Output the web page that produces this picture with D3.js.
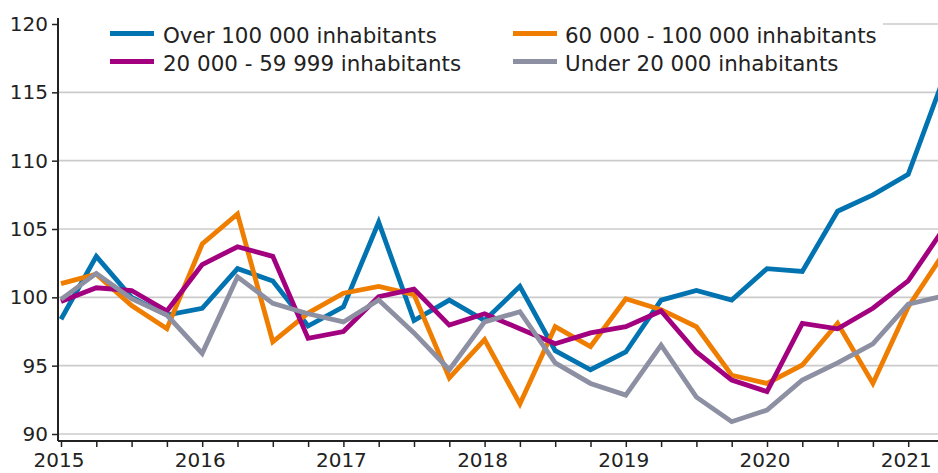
<!DOCTYPE html>
<html>
<head>
<meta charset="utf-8">
<script src="https://cdn.jsdelivr.net/npm/d3@7"></script>
<style>
  html, body { margin: 0; padding: 0; background: #fff; }
  svg { display: block; font-family: "DejaVu Sans", sans-serif; }
</style>
</head>
<body>
<svg id="chart" width="938" height="473"></svg>
<script>
// ---- data ----
const quarters = ["2015Q1","2015Q2","2015Q3","2015Q4","2016Q1","2016Q2","2016Q3","2016Q4",
  "2017Q1","2017Q2","2017Q3","2017Q4","2018Q1","2018Q2","2018Q3","2018Q4",
  "2019Q1","2019Q2","2019Q3","2019Q4","2020Q1","2020Q2","2020Q3","2020Q4",
  "2021Q1","2021Q2"];
const yearLabels = ["2015","2016","2017","2018","2019","2020","2021"];
const yTicks = [90, 95, 100, 105, 110, 115, 120];

const over100k = [98.4, 103.0, 100.0, 98.7, 99.2, 102.1, 101.2, 97.9, 99.3, 105.5, 98.3, 99.8, 98.3,
  100.8, 96.1, 94.7, 96.0, 99.8, 100.5, 99.8, 102.1, 101.9, 106.3, 107.5, 109.0, 116.0];
const from60kTo100k = [101.0, 101.7, 99.4, 97.7, 103.9, 106.1, 96.75, 98.85, 100.3, 100.8, 100.2, 94.1, 96.9,
  92.2, 97.85, 96.4, 99.9, 99.1, 97.85, 94.3, 93.7, 95.05, 98.1, 93.7, 99.3, 103.2];
const from20kTo60k = [99.7, 100.7, 100.5, 99.0, 102.4, 103.7, 103.0, 97.0, 97.5, 100.05, 100.6, 97.97, 98.8,
  97.7, 96.6, 97.4, 97.85, 99.0, 96.0, 93.95, 93.1, 98.1, 97.7, 99.2, 101.2, 105.0];
const under20k = [99.85, 101.75, 99.9, 98.7, 95.9, 101.5, 99.56, 98.8, 98.2, 99.8, 97.4, 94.7, 98.2,
  98.95, 95.2, 93.7, 92.85, 96.5, 92.7, 90.9, 91.75, 93.95, 95.2, 96.6, 99.5, 100.1];

const seriesNames = ["Over 100 000 inhabitants", "60 000 - 100 000 inhabitants",
  "20 000 - 59 999 inhabitants", "Under 20 000 inhabitants"];
const seriesColors = ["#0073b0", "#ef7d00", "#a2007e", "#8d8fa2"];

const series = [
  { name: seriesNames[0], color: seriesColors[0], values: over100k },
  { name: seriesNames[1], color: seriesColors[1], values: from60kTo100k },
  { name: seriesNames[2], color: seriesColors[2], values: from20kTo60k },
  { name: seriesNames[3], color: seriesColors[3], values: under20k }
];

// ---- layout ----
const W = 938, H = 473;
const axisX = 58, axisY = 441;
const svg = d3.select("#chart");

const x = d3.scaleLinear().domain([0, 24]).range([61, 908.2]);
const y = d3.scaleLinear().domain([90, 120]).range([434, 24]);

// gridlines
svg.append("g").selectAll("line").data(yTicks).join("line")
  .attr("x1", axisX).attr("x2", W)
  .attr("y1", d => y(d)).attr("y2", d => y(d))
  .attr("stroke", "#cbcbcb").attr("stroke-width", 1.6);

// lines
const line = d3.line().x((d, i) => x(i)).y(d => y(d)).curve(d3.curveLinear);
svg.append("g").selectAll("path").data(series).join("path")
  .attr("d", d => line(d.values))
  .attr("fill", "none")
  .attr("stroke", d => d.color)
  .attr("stroke-width", 4.8)
  .attr("stroke-linejoin", "miter")
  .attr("stroke-linecap", "butt");

// legend background (covers top gridline)
svg.append("rect").attr("x", axisX + 1).attr("y", 8).attr("width", 883 - axisX - 1).attr("height", 74)
  .attr("fill", "#fff");

// legend
const legendPos = [
  { sx: 110, tx: 163, y: 33.5 },
  { sx: 513, tx: 565, y: 33.5 },
  { sx: 110, tx: 163, y: 61.5 },
  { sx: 513, tx: 565, y: 61.5 }
];
const lg = svg.append("g");
series.forEach((s, i) => {
  const p = legendPos[i];
  lg.append("line").attr("x1", p.sx).attr("x2", p.sx + 44)
    .attr("y1", p.y).attr("y2", p.y)
    .attr("stroke", s.color).attr("stroke-width", 5);
  lg.append("text").attr("x", p.tx).attr("y", p.y + 9.5)
    .attr("font-size", 21.4).attr("fill", "#222")
    .text(s.name);
});

// y axis
const yAxis = d3.axisLeft(y).tickValues(yTicks).tickSize(6).tickPadding(4).tickFormat(d3.format("d"));
const gy = svg.append("g").attr("transform", `translate(${axisX},0)`).call(yAxis);
gy.select(".domain").remove();
gy.selectAll(".tick line").attr("stroke", "#222").attr("stroke-width", 1.5);
gy.selectAll(".tick text").attr("font-size", 20).attr("fill", "#222")
  .attr("font-family", "DejaVu Sans, sans-serif");
svg.append("line").attr("x1", axisX).attr("x2", axisX).attr("y1", 18).attr("y2", axisY)
  .attr("stroke", "#222").attr("stroke-width", 2);

// x axis
const xAxis = d3.axisBottom(x).tickValues(d3.range(0, quarters.length)).tickSize(6).tickFormat("");
const gx = svg.append("g").attr("transform", `translate(0,${axisY})`).call(xAxis);
gx.select(".domain").remove();
gx.selectAll(".tick line").attr("stroke", "#222").attr("stroke-width", 1.5);
svg.append("line").attr("x1", axisX).attr("x2", W).attr("y1", axisY).attr("y2", axisY)
  .attr("stroke", "#222").attr("stroke-width", 2);

// year labels
svg.append("g").selectAll("text").data(yearLabels).join("text")
  .attr("x", (d, i) => x(i * 4) - 2)
  .attr("y", 467)
  .attr("text-anchor", "middle")
  .attr("font-size", 20).attr("fill", "#222")
  .text(d => d);
</script>
</body>
</html>
